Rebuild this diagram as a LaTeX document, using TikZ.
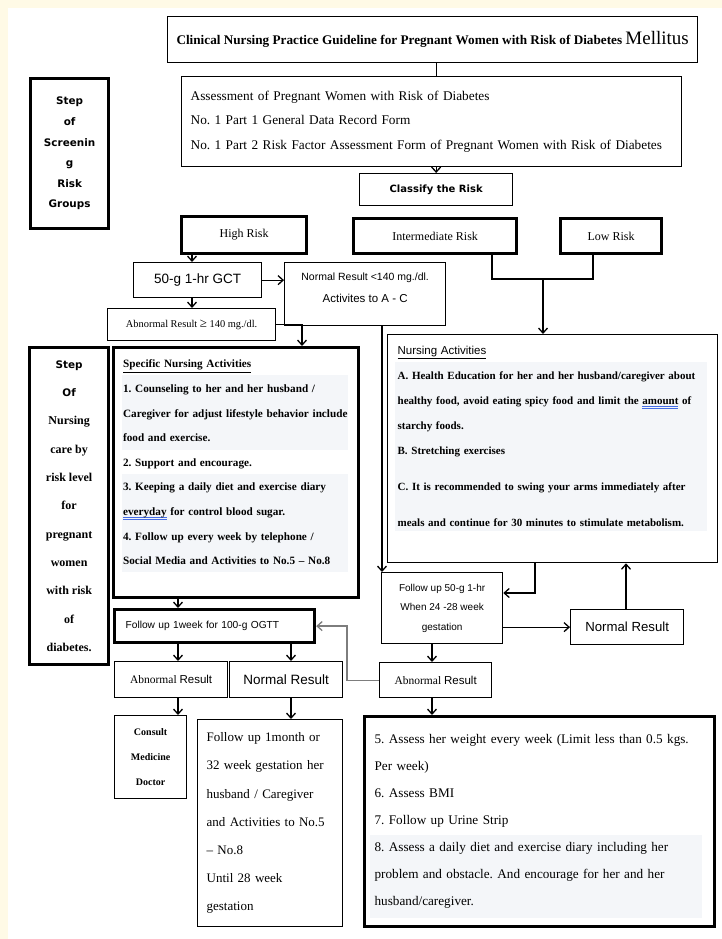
\documentclass[tikz,border=0pt]{standalone}
\usepackage{fontspec}
\setmainfont{Liberation Serif}
\setsansfont{Liberation Sans}
\newfontfamily\verdana{DejaVu Sans}
\usetikzlibrary{arrows.meta}
\definecolor{pagecream}{RGB}{255,250,230}
\definecolor{shadegray}{RGB}{244,246,249}
\definecolor{spellblue}{RGB}{70,110,230}
\definecolor{linegray}{RGB}{125,125,125}
\newcommand{\spellmark}[1]{\leavevmode\setbox0=\hbox{#1}\rlap{\color{spellblue}\rule[-2.2pt]{\wd0}{0.7pt}}\rlap{\color{spellblue}\rule[-4pt]{\wd0}{0.7pt}}\box0\relax}
\tikzset{
	boxstyle/.style={rectangle,draw=black,line width=1.3pt,anchor=north west,inner sep=0pt},
	heavystyle/.style={boxstyle,line width=3.2pt},
	linkstyle/.style={line width=1.3pt,-{Straight Barb[length=5pt,width=9pt]}},
	plainlink/.style={line width=1.3pt}
}

\begin{document}
\frenchspacing
\begin{tikzpicture}[x=1pt,y=-1pt]
	\useasboundingbox (0,0) rectangle (722,939);
	\fill[pagecream] (0,0) rectangle (722,939);
	\fill[white] (8,8) rectangle (722,939);
	% shaded lines behind text
	\fill[shadegray] (122,375) rectangle (348,450);
	\fill[shadegray] (122,474) rectangle (348,572);
	\fill[shadegray] (395,362) rectangle (707,531);
	\fill[shadegray] (370,835) rectangle (702,918);
	% screening
	\node[boxstyle,minimum width=530pt,minimum height=46pt,font=\fontsize{13.2}{14}\selectfont\bfseries] (title) at (167,16) {Clinical Nursing Practice Guideline for Pregnant Women with Risk of Diabetes {\mdseries\fontsize{19}{20}\selectfont Mellitus}};
	\node[boxstyle,minimum width=500pt,minimum height=90pt,text width=482pt,align=left,font=\fontsize{13.3}{24.5}\selectfont] (assess) at (181,76) {Assessment of Pregnant Women with Risk of Diabetes\\No. 1 Part 1 General Data Record Form\\No. 1 Part 2 Risk Factor Assessment Form of Pregnant Women with Risk of Diabetes};
	\node[boxstyle,minimum width=153pt,minimum height=32pt,font=\verdana\bfseries\fontsize{10}{11}\selectfont] (classify) at (359,173) {Classify the Risk};
	\node[heavystyle,minimum width=78pt,minimum height=150pt,align=center,font=\verdana\bfseries\fontsize{10.4}{20.6}\selectfont] (screenstep) at (29,77) {Step\\of\\Screenin\\g\\Risk\\Groups};
	\node[heavystyle,minimum width=125pt,minimum height=37pt,font=\fontsize{12}{14}\selectfont] (highrisk) at (180,215) {High Risk};
	\node[heavystyle,minimum width=163pt,minimum height=35pt,font=\fontsize{12}{14}\selectfont] (interm) at (352,217) {Intermediate Risk};
	\node[heavystyle,minimum width=101pt,minimum height=35pt,font=\fontsize{12}{14}\selectfont] (low) at (559,217) {Low Risk};
	\node[boxstyle,minimum width=128pt,minimum height=35pt,font=\sffamily\fontsize{13.5}{15}\selectfont] (gct) at (133,262) {50-g 1-hr GCT};
	\node[boxstyle,minimum width=161pt,minimum height=63pt,align=center,font=\sffamily\fontsize{11.5}{22}\selectfont] (normal140) at (284,262) {{\fontsize{10.5}{22}\selectfont Normal Result <140 mg./dl.}\\Activites to A - C\\[-9pt]};
	\node[boxstyle,minimum width=168pt,minimum height=32pt,font=\fontsize{10.4}{12}\selectfont] (abn140) at (107,308) {Abnormal Result {\fontsize{13}{12}\selectfont ≥} 140 mg./dl.};
	% nursing care
	\node[heavystyle,minimum width=79pt,minimum height=317pt,align=center,font=\fontsize{12}{28.3}\selectfont\bfseries] (nursestep) at (28,346) {{\verdana\fontsize{10.4}{28.3}\selectfont Step}\\{\verdana\fontsize{10.4}{28.3}\selectfont Of}\\Nursing\\care by\\risk level\\for\\pregnant\\women\\with risk\\of\\diabetes.};
	\node[heavystyle,minimum width=245pt,minimum height=250pt,text width=226pt,align=left,font=\fontsize{11.2}{24.6}\selectfont\bfseries] (specific) at (112,346) {\underline{Specific Nursing Activities}\\1. Counseling to her and her husband /\\Caregiver for adjust lifestyle behavior include\\food and exercise.\\2. Support and encourage.\\3. Keeping a daily diet and exercise diary\\\spellmark{everyday} for control blood sugar.\\4. Follow up every week by telephone /\\Social Media and Activities to No.5 -- No.8\\[-4pt]\mbox{}};
	\node[boxstyle,minimum width=330pt,minimum height=228pt,text width=310pt,align=left,font=\fontsize{11}{25}\selectfont\bfseries] (nact) at (387,334) {{\sffamily\mdseries\fontsize{11.5}{25}\selectfont\underline{Nursing Activities}}\\A. Health Education for her and her husband/caregiver about\\healthy food, avoid eating spicy food and limit the \spellmark{amount} of\\starchy foods.\\B. Stretching exercises\\[11pt]C. It is recommended to swing your arms immediately after\\[11pt]meals and continue for 30 minutes to stimulate metabolism.\\\mbox{}};
	\node[boxstyle,minimum width=121pt,minimum height=71pt,align=center,font=\sffamily\fontsize{10}{19.5}\selectfont] (fu50) at (381,572) {Follow up 50-g 1-hr\\When 24 -28 week\\gestation};
	\node[boxstyle,minimum width=113pt,minimum height=35pt,font=\sffamily\fontsize{13.2}{15}\selectfont] (normR) at (570,609) {Normal Result};
	\node[heavystyle,minimum width=200pt,minimum height=33pt,text width=178pt,align=left,font=\sffamily\fontsize{10.2}{12}\selectfont] (fu1w) at (113,608) {Follow up 1week for 100-g OGTT};
	\node[boxstyle,minimum width=113pt,minimum height=36pt,font=\fontsize{11.5}{13}\selectfont] (abnL) at (114,661) {Abnormal {\sffamily Result}};
	\node[boxstyle,minimum width=113pt,minimum height=36pt,font=\sffamily\fontsize{13.5}{15}\selectfont] (normM) at (229,661) {Normal Result};
	\node[boxstyle,minimum width=112pt,minimum height=35pt,font=\fontsize{11.5}{13}\selectfont] (abnR) at (379,662) {Abnormal {\sffamily Result}};
	\node[boxstyle,minimum width=72pt,minimum height=83pt,align=center,font=\fontsize{10}{25}\selectfont\bfseries] (consult) at (114,715) {Consult\\Medicine\\Doctor};
	\node[boxstyle,minimum width=145pt,minimum height=207pt,text width=127pt,align=left,font=\fontsize{13}{28.2}\selectfont] (fu1m) at (197,719) {Follow up 1month or\\32 week gestation her\\husband / Caregiver\\and Activities to No.5\\-- No.8\\Until 28 week\\gestation};
	\node[heavystyle,minimum width=350pt,minimum height=210pt,text width=330pt,align=left,font=\fontsize{13.2}{27}\selectfont] (box58) at (363,715) {5. Assess her weight every week (Limit less than 0.5 kgs.\\Per week)\\6. Assess BMI\\7. Follow up Urine Strip\\8. Assess a daily diet and exercise diary including her\\problem and obstacle. And encourage for her and her\\husband/caregiver.};
	% connector columns
	\coordinate (colA) at (192,0);
	\coordinate (colB) at (302,0);
	\coordinate (colC) at (382,0);
	\coordinate (colG) at (626,0);
	\coordinate (colH) at (432,0);
	\coordinate (colI) at (178,0);
	\coordinate (colJ) at (291,0);
	\coordinate (graycol) at (347,0);
	\coordinate (intermfoot) at (492,279);
	\coordinate (lowfoot) at (593,279);
	\coordinate (riskjoin) at (543,279);
	\coordinate (loopback) at (535,593);
	% connectors
	\draw[plainlink] (title.south -| classify.north) -- (assess.north -| classify.north);
	\draw[linkstyle] (assess.south -| classify.north) -- (classify.north);
	\draw[linkstyle] (highrisk.south -| colA) -- (gct.north -| colA);
	\draw[linkstyle] (gct.east) -- (gct.east -| normal140.west);
	\draw[linkstyle] (gct.south -| colA) -- (abn140.north -| colA);
	\draw[linkstyle] (abn140.east) -| (specific.north -| colB);
	\draw[linkstyle] (normal140.south -| colC) -- (fu50.north -| colC);
	\draw[plainlink] (interm.south -| intermfoot) -- (intermfoot) -- (lowfoot) -- (low.south -| lowfoot);
	\draw[linkstyle] (riskjoin) -- (riskjoin |- nact.north);
	\draw[linkstyle] (nact.south -| loopback) -- (loopback) -- (loopback -| fu50.east);
	\draw[linkstyle] (normR.west -| fu50.east) -- (normR.west);
	\draw[linkstyle] (normR.north -| colG) -- (nact.south -| colG);
	\draw[linkstyle] (fu50.south -| colH) -- (abnR.north -| colH);
	\draw[linkstyle] (abnR.south -| colH) -- (box58.north -| colH);
	\draw[linkstyle,draw=linegray] (abnR.west) -| (graycol |- fu1w.east) -- (fu1w.east);
	\draw[linkstyle] (specific.south -| colI) -- (fu1w.north -| colI);
	\draw[linkstyle] (fu1w.south -| colI) -- (abnL.north -| colI);
	\draw[linkstyle] (fu1w.south -| colJ) -- (normM.north -| colJ);
	\draw[linkstyle] (abnL.south -| colI) -- (consult.north -| colI);
	\draw[linkstyle] (normM.south -| colJ) -- (fu1m.north -| colJ);
\end{tikzpicture}
\end{document}
